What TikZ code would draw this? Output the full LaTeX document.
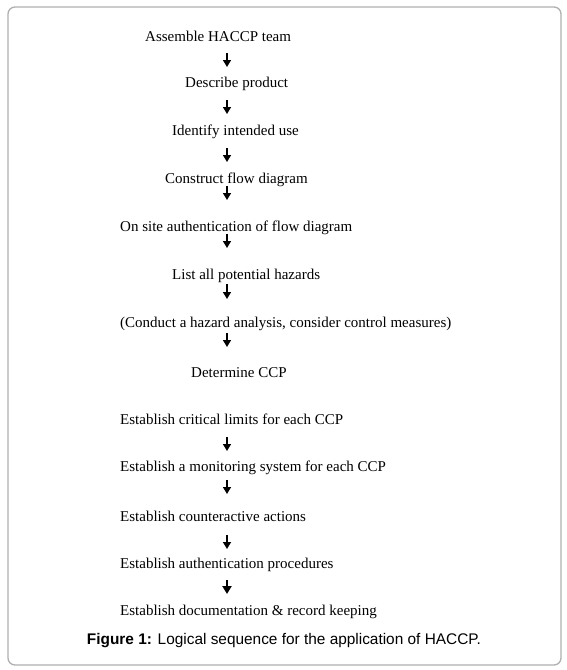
\documentclass[tikz,border=0pt]{standalone}
\usepackage{fontspec}
\setmainfont{Liberation Serif}
\newfontfamily\capfont{Liberation Sans}
\usetikzlibrary{arrows.meta}
\definecolor{frame}{RGB}{175,175,175}
\tikzset{
  stepbox/.style={anchor=west, inner sep=0pt, yshift=-1.5pt, font=\fontsize{15}{17}\selectfont},
  arr/.style={line width=1.5pt, -{Triangle[width=8pt,length=7pt]}},
}
\begin{document}
\begin{tikzpicture}[x=1pt,y=-1pt]
\useasboundingbox (0,0) rectangle (567,670);
\draw[frame, line width=1.3pt, rounded corners=7pt] (8,7) rectangle (561,665);
\node[stepbox] (s1) at (145,35) {Assemble HACCP team};
\node[stepbox] (s2) at (185,82) {Describe product};
\node[stepbox] (s3) at (172,130) {Identify intended use};
\node[stepbox] (s4) at (165,178) {Construct flow diagram};
\node[stepbox] (s5) at (120,226) {On site authentication of flow diagram};
\node[stepbox] (s6) at (172,274) {List all potential hazards};
\node[stepbox] (s7) at (120,322) {(Conduct a hazard analysis, consider control measures)};
\node[stepbox] (s8) at (191,371) {Determine CCP};
\node[stepbox] (s9) at (120,418) {Establish critical limits for each CCP};
\node[stepbox] (s10) at (120,466) {Establish a monitoring system for each CCP};
\node[stepbox] (s11) at (120,515) {Establish counteractive actions};
\node[stepbox] (s12) at (120,563) {Establish authentication procedures};
\node[stepbox] (s13) at (120,610) {Establish documentation \& record keeping};
\node[inner sep=0pt, yshift=-1pt, font=\capfont\fontsize{15.4}{17}\selectfont] (cap) at (284,640) {\textbf{Figure 1:} Logical sequence for the application of HACCP.};
\foreach \i/\a/\b in {1/53/67,2/100/114,3/148/162,4/186/200,5/234/248,6/284/299,7/333/347,9/437/451,10/480/494,11/535/549}{
  \coordinate (a\i s) at (227,\a);
  \coordinate (a\i e) at (227,\b);
  \draw[arr] (a\i s) -- (a\i e);
}
\coordinate (a12s) at (227,580);
\coordinate (a12e) at (227,594);
\draw[line width=2pt, -{Triangle[width=9pt,length=8pt]}] (a12s) -- (a12e);
\end{tikzpicture}
\end{document}
